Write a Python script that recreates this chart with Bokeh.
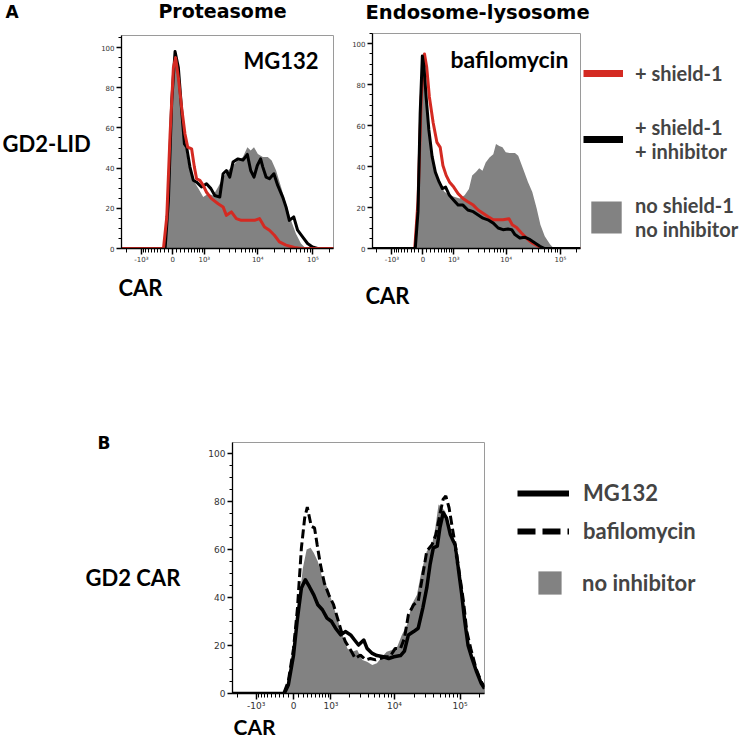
import numpy as np
from bokeh.plotting import figure
from bokeh.models import Label, Legend, LegendItem, FixedTicker, Range1d
from bokeh.layouts import column, row
from bokeh.embed import file_html
from bokeh.resources import INLINE

# ---------------- data ----------------
# x: CAR in logicle display units (decades from 0), y: % of max
A1_gray_x = [-0.93, -0.15, -0.08, -0.02, 0.04, 0.09, 0.15, 0.21, 0.28, 0.37, 0.46, 0.55, 0.64, 0.73, 0.82, 0.91, 1.00, 1.09, 1.18, 1.27,
             1.35, 1.41, 1.47, 1.54, 1.63, 1.72, 1.79, 1.87, 1.96, 2.05, 2.14, 2.23, 2.32, 2.41, 2.91]
A1_gray_y = [0, 0, 27, 77, 94, 88, 68.6, 53.7, 42, 34, 30, 25.6, 27.3, 26.4, 30.6, 35.5, 38.8, 41.3, 43.8, 45.5,
             50.4, 48.8, 50.4, 47, 45.5, 45.5, 43.8, 38.8, 30.6, 22.3, 14, 7.4, 2.5, 0, 0]
A1_black_x = [-0.93, -0.14, -0.08, -0.02, 0.04, 0.10, 0.16, 0.21, 0.25, 0.31, 0.37, 0.43, 0.52, 0.61, 0.69, 0.76, 0.85, 0.91, 0.97, 1.03,
              1.09, 1.18, 1.27, 1.35, 1.41, 1.47, 1.53, 1.59, 1.63, 1.69, 1.75, 1.83, 1.90, 1.99, 2.05, 2.11, 2.19, 2.26, 2.35, 2.44,
              2.53, 2.62, 2.91]
A1_black_y = [0, 0, 24, 73.5, 98, 90, 68.6, 52, 50.4, 40.5, 34, 33, 30.6, 32.2, 29.8, 26.4, 25.6, 37.2, 38.8, 35.5,
              43, 44.6, 44, 46.8, 38.8, 35.5, 41.3, 44.6, 40.5, 35.5, 34.7, 37.2, 31.4, 25.6, 20.7, 14, 15.7, 9.1, 5.8, 2.5,
              0.8, 0, 0]
A1_red_x = [-0.93, -0.17, -0.11, -0.05, 0.01, 0.05, 0.10, 0.16, 0.22, 0.27, 0.34, 0.39, 0.43, 0.49, 0.55, 0.61, 0.70, 0.82, 0.91, 0.97,
            1.06, 1.15, 1.24, 1.36, 1.48, 1.57, 1.66, 1.75, 1.84, 1.93, 2.05, 2.20, 2.32, 2.91]
A1_red_y = [0, 0, 15.7, 57, 90, 95, 85, 70, 57, 50.4, 49.6, 40.5, 34.7, 33.9, 31.4, 28, 24.8, 22.3, 20.7, 16.5,
            18.2, 14.9, 14, 14, 14, 14.9, 10.7, 9.1, 6.6, 3.3, 1.7, 0.5, 0, 0]

A2_gray_x = [-0.93, -0.15, -0.09, -0.05, 0, 0.04, 0.09, 0.15, 0.23, 0.31, 0.40, 0.49, 0.59, 0.68, 0.77, 0.85, 0.91, 0.98, 1.04, 1.10,
             1.16, 1.23, 1.30, 1.35, 1.41, 1.47, 1.53, 1.60, 1.70, 1.76, 1.85, 1.94, 2.02, 2.10, 2.17, 2.25, 2.35, 2.42, 2.91]
A2_gray_y = [0, 0, 26, 74, 93.6, 87, 66, 48.5, 37.3, 31, 27.7, 26, 25.2, 24.4, 26, 29, 35.7, 37.3, 39.2, 38,
             42, 44.5, 46, 51, 50, 49.4, 47, 46.6, 46.6, 45.3, 38.9, 32.5, 27.6, 19.6, 11.6, 6, 1.9, 0, 0]
A2_black_x = [-0.93, -0.14, -0.09, -0.05, -0.01, 0.02, 0.06, 0.11, 0.17, 0.23, 0.30, 0.36, 0.42, 0.49, 0.57, 0.65, 0.74, 0.83, 0.93, 1.02,
              1.11, 1.20, 1.30, 1.39, 1.48, 1.57, 1.64, 1.70, 1.79, 1.88, 1.98, 2.07, 2.16, 2.25, 2.91]
A2_black_y = [0, 0, 18, 66, 94, 88.7, 74, 58, 45, 37.3, 32.5, 29.3, 30, 26, 23.6, 21.2, 21.2, 18.8, 18, 16.4,
              14.8, 14, 12.4, 10, 9.2, 9.5, 9.2, 6.8, 5.1, 5.5, 4.3, 2.7, 1.1, 0, 0]
A2_red_x = [-0.93, -0.15, -0.09, -0.03, 0.03, 0.07, 0.12, 0.19, 0.26, 0.32, 0.37, 0.43, 0.49, 0.57, 0.65, 0.74, 0.83, 0.93, 1.02, 1.11,
            1.20, 1.30, 1.39, 1.48, 1.59, 1.65, 1.73, 1.82, 1.91, 2.02, 2.13, 2.22, 2.91]
A2_red_y = [0, 0, 23, 74, 95, 88.7, 74, 61.4, 51.8, 49.4, 40.5, 35.7, 32.5, 30, 26.8, 24.4, 22.8, 21.2, 18.8, 17.2,
            15.6, 14, 14, 14, 14.5, 11.6, 10.3, 7.6, 5.1, 2.7, 1.1, 0, 0]

B_gray_x = [-0.93, -0.17, -0.09, -0.02, 0.06, 0.14, 0.20, 0.26, 0.31, 0.37, 0.44, 0.52, 0.59, 0.67, 0.74, 0.82, 0.89, 0.97, 1.05, 1.12,
            1.20, 1.27, 1.35, 1.42, 1.50, 1.58, 1.65, 1.73, 1.80, 1.88, 1.95, 2.03, 2.11, 2.16, 2.21, 2.26, 2.31, 2.36, 2.43, 2.49,
            2.56, 2.64, 2.71, 2.79, 2.86, 2.91]
B_gray_y = [0, 0, 2, 10.5, 31, 52, 60, 60.7, 58.6, 55, 48, 44, 38, 31, 25, 18.8, 17.4, 18.1, 14, 13.2,
            11.9, 12.6, 15.3, 17.4, 18.1, 19.5, 24.4, 28.6, 37, 41, 51, 59.3, 62, 69, 78.8, 77.4, 76, 71.8, 62, 52.3,
            41, 25.8, 16, 9, 4.9, 2]
B_mg132_x = [-0.93, -0.14, -0.08, 0, 0.06, 0.12, 0.18, 0.24, 0.31, 0.37, 0.44, 0.51, 0.58, 0.64, 0.72, 0.79, 0.87, 0.93, 0.99, 1.07,
             1.12, 1.20, 1.27, 1.37, 1.45, 1.53, 1.63, 1.69, 1.75, 1.83, 1.90, 1.97, 2.03, 2.08, 2.13, 2.19, 2.23, 2.28, 2.33, 2.39,
             2.46, 2.51, 2.56, 2.61, 2.66, 2.72, 2.79, 2.86, 2.91]
B_mg132_y = [0, 0, 3.5, 16, 31.4, 44, 47.4, 44.6, 41, 37, 34.9, 31.4, 30, 27.2, 24.4, 25.8, 24.4, 22.3, 20.2, 22.3,
             18.8, 16.7, 15.8, 15.3, 14.6, 15.3, 15.8, 17.7, 24.4, 25.8, 27.2, 35.6, 44, 53.7, 60.7, 61.4, 69, 75.3, 73.2, 66.2,
             62, 52.3, 42, 30, 20, 14.6, 9, 4.2, 2]
B_bafilo_x = [-0.93, -0.15, -0.08, 0, 0.06, 0.12, 0.17, 0.21, 0.27, 0.32, 0.36, 0.41, 0.47, 0.54, 0.61, 0.67, 0.73, 0.79, 0.87, 0.94,
              1.02, 1.10, 1.17, 1.25, 1.32, 1.40, 1.47, 1.55, 1.63, 1.69, 1.75, 1.83, 1.90, 1.97, 2.03, 2.11, 2.17, 2.23, 2.28, 2.32,
              2.37, 2.42, 2.48, 2.53, 2.59, 2.64, 2.70, 2.78, 2.86, 2.91]
B_bafilo_y = [0, 0, 5, 18.8, 35.6, 60.7, 73.2, 77.7, 69.7, 69, 62, 53.7, 46, 41, 37, 31.4, 25.8, 21.6, 18.1, 14.6,
              16, 14, 14.6, 14, 14.6, 15.3, 15.3, 18.8, 18.8, 23, 32.8, 37, 38.4, 49.5, 59.3, 62, 66.2, 74.6, 81, 82.3,
              77.4, 69, 59.3, 49.5, 38.4, 25.8, 18.8, 10.5, 4.9, 2.8]

# axis ticks (CAR values on the logicle scale)
X_TICK_VALUES = [-1000, 0, 1000, 10000, 100000]
X_TICK_LABELS = ["-10³", "0", "10³", "10⁴", "10⁵"]
X_MINOR_VALUES = ([-3000, -2000] + [-k * 100 for k in range(9, 0, -1)] + [k * 100 for k in range(1, 10)]
                  + [k * 1000 for k in range(2, 10)] + [k * 10000 for k in range(2, 10)] + [200000])
Y_TICKS = [0, 20, 40, 60, 80, 100]
Y_MINOR = list(range(0, 106, 5))

RED = "#d42a22"
GRAY = "#828282"
W_LOGICLE = 290.0
NAN = [float("nan")]


def display(v):
    return float(np.round(np.arcsinh(v / (2 * W_LOGICLE)) / np.log(10), 6))


def make_panel(origin, size, frame, ytop, tick_font):
    """origin/size: canvas in page px; frame: (left, right, top, bottom) in page px."""
    ox, oy = origin
    width, height = size
    fl, fr, ft, fb = frame
    p = figure(width=width, height=height, x_range=Range1d(-0.93, 2.91), y_range=Range1d(0, ytop),
               output_backend="svg", toolbar_location=None, title=None, frame_align=False,
               min_border_left=fl - ox, min_border_right=ox + width - fr,
               min_border_top=ft - oy, min_border_bottom=oy + height - fb)
    p.xgrid.visible = False
    p.ygrid.visible = False
    p.outline_line_color = "#9a9a9a"
    xt = [display(v) for v in X_TICK_VALUES]
    p.xaxis.ticker = FixedTicker(ticks=xt, minor_ticks=[display(v) for v in X_MINOR_VALUES])
    p.xaxis.major_label_overrides = {t: lab for t, lab in zip(xt, X_TICK_LABELS)}
    p.yaxis.ticker = FixedTicker(ticks=Y_TICKS, minor_ticks=Y_MINOR)
    for ax in (p.xaxis[0], p.yaxis[0]):
        ax.axis_line_color = "black"
        ax.axis_line_width = 1.3
        ax.major_tick_in = 0
        ax.minor_tick_in = 0
        ax.major_tick_line_color = "black"
        ax.minor_tick_line_color = "black"
        ax.major_tick_line_width = 1.5
        ax.minor_tick_line_width = 1
        ax.major_label_text_font = "DejaVu Sans"
        ax.major_label_text_font_size = tick_font
        ax.major_label_text_color = "#333333"
    p.xaxis.major_tick_out = 6
    p.xaxis.minor_tick_out = 4
    p.yaxis.major_tick_out = 5
    p.yaxis.minor_tick_out = 3
    p.xaxis.major_label_standoff = 1
    p.yaxis.major_label_standoff = 2
    return p


def text_panel(origin, size):
    """A figure without axes used for texts and keys; its frame is the whole canvas."""
    width, height = size
    p = figure(width=width, height=height, x_range=Range1d(0, width), y_range=Range1d(0, height),
               x_axis_type=None, y_axis_type=None, output_backend="svg", toolbar_location=None,
               title=None, frame_align=False, min_border=0, min_border_left=0, min_border_right=0,
               min_border_top=0, min_border_bottom=0)
    p.xgrid.visible = False
    p.ygrid.visible = False
    p.outline_line_color = None
    p._origin = (origin[0], origin[1] + height)
    return p


def add_text(p, text, px, py, size, font="Lato", align="left", frame=None):
    """Place text whose vertical middle is at page position py."""
    if frame is None:
        ox, obottom = p._origin
    else:
        ox, obottom = frame[0], frame[3]
    p.add_layout(Label(x=px - ox, y=obottom - py, x_units="screen", y_units="screen", text=text,
                       text_font=font, text_font_style="bold", text_font_size=f"{size}px",
                       text_align=align, text_baseline="middle", text_color="black"))


def key(items, x, y, gw, gh, standoff, spacing, size, line_height=1.2):
    return Legend(items=items, location=(x, y), orientation="vertical", glyph_width=gw, glyph_height=gh,
                  label_standoff=standoff, spacing=spacing, padding=0, margin=0,
                  border_line_alpha=0, background_fill_alpha=0,
                  label_text_font="Lato", label_text_font_style="bold", label_text_font_size=f"{size}px",
                  label_text_line_height=line_height)


# ---------------- strip 1: panel letter + column titles ----------------
top = text_panel((0, 0), (747, 31))
add_text(top, "A", 5, 11, 17, font="DejaVu Sans")
add_text(top, "Proteasome", 222, 10, 19, font="DejaVu Sans", align="center")
add_text(top, "Endosome-lysosome", 365, 11.7, 19.5, font="DejaVu Sans")

# ---------------- row A ----------------
leftA = text_panel((0, 31), (98, 239))
add_text(leftA, "GD2-LID", 2, 142.5, 22)

F1 = (120, 333, 35, 248)
pA1 = make_panel((98, 31), (240, 239), F1, 106, "7px")
pA1.varea(x=A1_gray_x, y1=0, y2=A1_gray_y, fill_color=GRAY)
pA1.line(A1_black_x, A1_black_y, line_color="black", line_width=3, line_join="round")
pA1.line(A1_red_x, A1_red_y, line_color=RED, line_width=3, line_join="round")
add_text(pA1, "MG132", 317, 60, 22, align="right", frame=F1)

F2 = (372, 580, 33, 248)
pA2 = make_panel((338, 31), (244, 239), F2, 105, "7px")
pA2.varea(x=A2_gray_x, y1=0, y2=A2_gray_y, fill_color=GRAY)
pA2.line(A2_red_x, A2_red_y, line_color=RED, line_width=3, line_join="round")
pA2.line(A2_black_x, A2_black_y, line_color="black", line_width=3, line_join="round")
add_text(pA2, "bafilomycin", 450, 58, 23, frame=F2)

keyA = text_panel((582, 31), (165, 239))
red_key = keyA.line(x=NAN, y=NAN, line_color=RED, line_width=7)
blk_key = keyA.line(x=NAN, y=NAN, line_color="black", line_width=7)
gry_key = keyA.varea(x=NAN, y1=NAN, y2=NAN, fill_color=GRAY)
keyA.add_layout(key([LegendItem(label="+ shield-1", renderers=[red_key]),
                     LegendItem(label="+ shield-1\n+ inhibitor", renderers=[blk_key])],
                    1, 105, 40, 52, 12, 14, 20, line_height=1.4))
keyA.add_layout(key([LegendItem(label="no shield-1\nno inhibitor", renderers=[gry_key])],
                    5, 29, 38, 40, 10, 0, 20, line_height=1.4))

# ---------------- strip 3: x titles of row A ----------------
midA = text_panel((0, 270), (747, 38))
add_text(midA, "CAR", 118, 287, 22)
add_text(midA, "CAR", 365, 295, 22)

# ---------------- row B ----------------
leftB = text_panel((0, 308), (200, 405))
add_text(leftB, "B", 97, 442.5, 17, font="DejaVu Sans")
add_text(leftB, "GD2 CAR", 85, 576.5, 22)

F3 = (232, 484, 442, 693)
pB = make_panel((200, 308), (287, 405), F3, 104.6, "9px")
pB.varea(x=B_gray_x, y1=0, y2=B_gray_y, fill_color=GRAY)
pB.line(B_mg132_x, B_mg132_y, line_color="black", line_width=3.5, line_join="round")
pB.line(B_bafilo_x, B_bafilo_y, line_color="black", line_width=3, line_dash="9 4")

keyB = text_panel((487, 308), (260, 405))
solid_key = keyB.line(x=NAN, y=NAN, line_color="black", line_width=6)
dash_key = keyB.line(x=NAN, y=NAN, line_color="black", line_width=6, line_dash="18 7")
box_key = keyB.varea(x=NAN, y1=NAN, y2=NAN, fill_color=GRAY)
keyB.add_layout(key([LegendItem(label="MG132", renderers=[solid_key]),
                     LegendItem(label="bafilomycin", renderers=[dash_key])],
                    30, 169, 52, 24, 14, 11, 22))
keyB.add_layout(key([LegendItem(label="no inhibitor", renderers=[box_key])],
                    48, 116, 29, 29, 18, 0, 22))

# ---------------- strip 5: x title of panel B ----------------
botB = text_panel((0, 713), (747, 26))
add_text(botB, "CAR", 233, 726.2, 21)

layout = column(top,
                row(leftA, pA1, pA2, keyA, spacing=0),
                midA,
                row(leftB, pB, keyB, spacing=0),
                botB,
                spacing=0)
open("out.html", "w").write(file_html(layout, INLINE))
